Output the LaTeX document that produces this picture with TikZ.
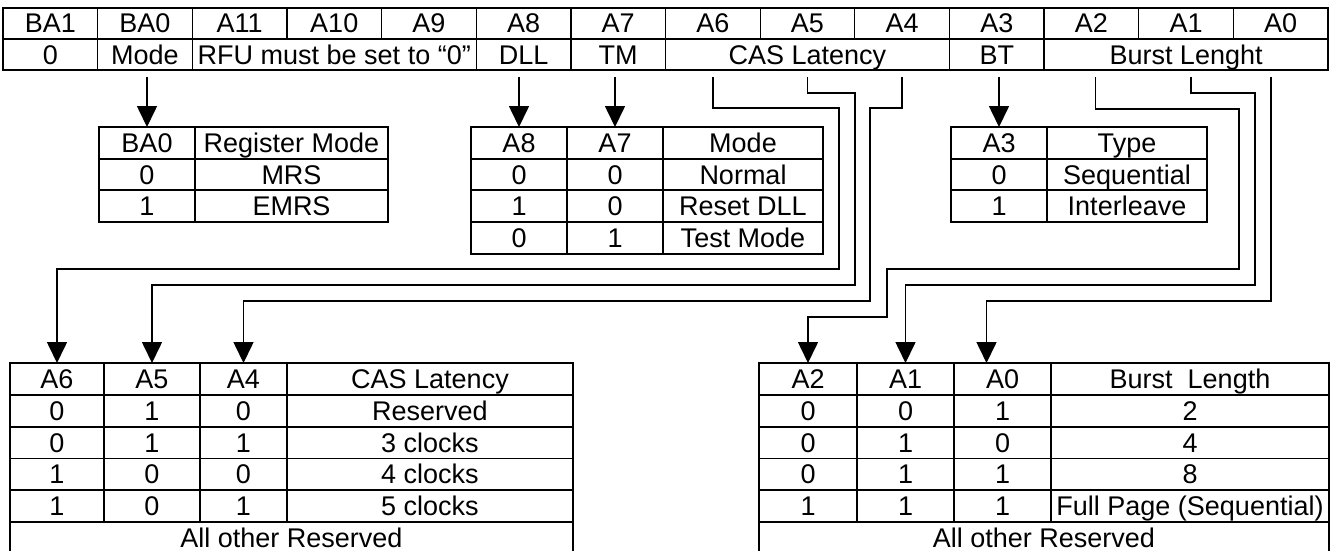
\documentclass[tikz,border=0pt]{standalone}
\usepackage{fontspec}
\setmainfont{Liberation Sans}
\usetikzlibrary{arrows.meta,calc}
\newcommand\cell[6]{\node[cell, minimum width={#4-#2}, minimum height={#5-#3}] (#1) at ({(#2+#4)/2},{(#3+#5)/2}) {#6};}
\begin{document}
\begin{tikzpicture}[x=1pt,y=-1pt,
  cell/.style={draw, line width=1.3pt, inner sep=0pt, outer sep=0pt, text height=19.3pt, text depth=0pt,
    font=\fontsize{27}{31}\selectfont},
  outer/.style={draw, line width=2pt},
  arr/.style={line width=1.6pt, -{Triangle[length=21pt,width=20pt]}},
  wire/.style={line width=1.6pt}]
\useasboundingbox (0,0) rectangle (1332,550);
\clip (0,0) rectangle (1332,550);
% top register table
\foreach \t [count=\i from 0] in {BA1,BA0,A11,A10,A9,A8,A7,A6,A5,A4,A3,A2,A1,A0}
  {\node[cell, minimum width=94.64, minimum height=31.5] (h\i) at ({3+94.643*(\i+0.5)},23.25) {\t};}
\cell{r0}{3}{39}{97.64}{70}{0}
\cell{r1}{97.64}{39}{192.29}{70}{Mode}
\cell{r2}{192.29}{39}{476.21}{70}{RFU must be set to “0”}
\cell{r5}{476.21}{39}{570.86}{70}{DLL}
\cell{r6}{570.86}{39}{665.5}{70}{TM}
\cell{r7}{665.5}{39}{949.43}{70}{CAS Latency}
\cell{r10}{949.43}{39}{1044.07}{70}{BT}
\cell{r11}{1044.07}{39}{1328}{70}{Burst Lenght}
\draw[outer] (h0.north west) rectangle (r11.south east);
% BA0 table
\cell{sa0}{99}{127}{195}{159}{BA0}
\cell{sa1}{195}{127}{388}{159}{Register Mode}
\cell{sb0}{99}{159}{195}{190}{0}
\cell{sb1}{195}{159}{388}{190}{MRS}
\cell{sc0}{99}{190}{195}{222}{1}
\cell{sc1}{195}{190}{388}{222}{EMRS}
\draw[outer] (sa0.north west) rectangle (sc1.south east);
% A8 A7 table
\cell{ta0}{471}{127}{567}{159}{A8}
\cell{ta1}{567}{127}{663}{159}{A7}
\cell{ta2}{663}{127}{823}{159}{Mode}
\cell{tb0}{471}{159}{567}{190}{0}
\cell{tb1}{567}{159}{663}{190}{0}
\cell{tb2}{663}{159}{823}{190}{Normal}
\cell{tc0}{471}{190}{567}{222}{1}
\cell{tc1}{567}{190}{663}{222}{0}
\cell{tc2}{663}{190}{823}{222}{Reset DLL}
\cell{td0}{471}{222}{567}{254}{0}
\cell{td1}{567}{222}{663}{254}{1}
\cell{td2}{663}{222}{823}{254}{Test Mode}
\draw[outer] (ta0.north west) rectangle (td2.south east);
% A3 table
\cell{ua0}{951}{127}{1047}{159}{A3}
\cell{ua1}{1047}{127}{1207}{159}{Type}
\cell{ub0}{951}{159}{1047}{190}{0}
\cell{ub1}{1047}{159}{1207}{190}{Sequential}
\cell{uc0}{951}{190}{1047}{222}{1}
\cell{uc1}{1047}{190}{1207}{222}{Interleave}
\draw[outer] (ua0.north west) rectangle (uc1.south east);
% CAS latency table
\cell{la0}{10}{363}{104}{395}{A6}
\cell{la1}{104}{363}{200}{395}{A5}
\cell{la2}{200}{363}{287}{395}{A4}
\cell{la3}{287}{363}{573}{395}{CAS Latency}
\cell{lb0}{10}{395}{104}{427}{0}
\cell{lb1}{104}{395}{200}{427}{1}
\cell{lb2}{200}{395}{287}{427}{0}
\cell{lb3}{287}{395}{573}{427}{Reserved}
\cell{lc0}{10}{427}{104}{458.5}{0}
\cell{lc1}{104}{427}{200}{458.5}{1}
\cell{lc2}{200}{427}{287}{458.5}{1}
\cell{lc3}{287}{427}{573}{458.5}{3 clocks}
\cell{ld0}{10}{458.5}{104}{490}{1}
\cell{ld1}{104}{458.5}{200}{490}{0}
\cell{ld2}{200}{458.5}{287}{490}{0}
\cell{ld3}{287}{458.5}{573}{490}{4 clocks}
\cell{le0}{10}{490}{104}{522}{1}
\cell{le1}{104}{490}{200}{522}{0}
\cell{le2}{200}{490}{287}{522}{1}
\cell{le3}{287}{490}{573}{522}{5 clocks}
\cell{lf}{10}{522}{573}{554}{All other Reserved}
\draw[outer] (la0.north west) rectangle (lf.south east);
% Burst length table
\cell{ma0}{759}{363}{857}{395}{A2}
\cell{ma1}{857}{363}{954}{395}{A1}
\cell{ma2}{954}{363}{1051}{395}{A0}
\cell{ma3}{1051}{363}{1329}{395}{Burst~ Length}
\cell{mb0}{759}{395}{857}{427}{0}
\cell{mb1}{857}{395}{954}{427}{0}
\cell{mb2}{954}{395}{1051}{427}{1}
\cell{mb3}{1051}{395}{1329}{427}{2}
\cell{mc0}{759}{427}{857}{458.5}{0}
\cell{mc1}{857}{427}{954}{458.5}{1}
\cell{mc2}{954}{427}{1051}{458.5}{0}
\cell{mc3}{1051}{427}{1329}{458.5}{4}
\cell{md0}{759}{458.5}{857}{490}{0}
\cell{md1}{857}{458.5}{954}{490}{1}
\cell{md2}{954}{458.5}{1051}{490}{1}
\cell{md3}{1051}{458.5}{1329}{490}{8}
\cell{me0}{759}{490}{857}{522}{1}
\cell{me1}{857}{490}{954}{522}{1}
\cell{me2}{954}{490}{1051}{522}{1}
\cell{me3}{1051}{490}{1329}{522}{Full Page (Sequential)}
\cell{mf}{759}{522}{1329}{554}{All other Reserved}
\draw[outer] (ma0.north west) rectangle (mf.south east);
% connectors
\coordinate (y77) at (0,77);
\coordinate (y269) at (0,269);
\coordinate (y285) at (0,285);
\coordinate (y301) at (0,301);
\coordinate (y317) at (0,317);
\draw[arr] (sa0.north |- y77) -- (sa0.north);
\draw[arr] (ta0.north |- y77) -- (ta0.north);
\draw[arr] (ta1.north |- y77) -- (ta1.north);
\draw[arr] (ua0.north |- y77) -- (ua0.north);
\draw[arr] (h7 |- y77) |- (839,108) |- (la0.north |- y269) -- (la0.north);
\draw[arr] (h8 |- y77) |- (855,93) |- (la1.north |- y285) -- (la1.north);
\draw[arr] (h9 |- y77) |- (870,108) |- (la2.north |- y301) -- (la2.north);
\coordinate (a2s) at ($(h11 |- y77)+(4,0)$);
\coordinate (a1s) at ($(h12 |- y77)+(5,0)$);
\coordinate (a0s) at ($(h13 |- y77)+(-10,0)$);
\coordinate (a0e) at ($(ma2.north)+(-16,0)$);
\draw[arr] (a2s) |- (1239,109) |- (887,269) |- (ma0.north |- y317) -- (ma0.north);
\draw[arr] (a1s) |- (1255,93) |- (ma1.north |- y285) -- (ma1.north);
\draw[arr] (a0s) |- (a0e |- y301) -- (a0e);
\end{tikzpicture}
\end{document}
